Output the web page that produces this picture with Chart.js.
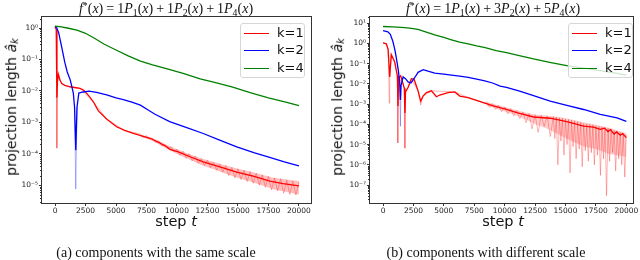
<!DOCTYPE html>
<html>
<head>
<meta charset="utf-8">
<script src="https://cdn.jsdelivr.net/npm/chart.js@4.4.0/dist/chart.umd.min.js"></script>
<style>
  body { margin: 0; background: #fff; width: 640px; height: 260px; overflow: hidden; position: relative; font-family: "DejaVu Sans"; color: #111; }
  .pane { position: absolute; top: 0; width: 320px; height: 260px; }
  .pane canvas { position: absolute; left: 0; top: 0; }
  .serif { position: absolute; font-family: "Liberation Serif"; font-size: 14px; white-space: nowrap; transform: translate(-50%, -50%); line-height: 1; }
  .serif sub { font-size: 0.7em; vertical-align: -0.25em; }
  .serif sup { font-size: 0.7em; vertical-align: 0.45em; }
  .serif .op { margin: 0 3px; }
  .ylab { position: absolute; font-size: 14px; white-space: nowrap; transform: translate(-50%, -50%) rotate(-90deg); line-height: 1; }
  .ylab sub { font-size: 0.7em; vertical-align: -0.2em; }
  .xlab { position: absolute; font-size: 14.5px; white-space: nowrap; transform: translate(-50%, -50%); line-height: 1; }
  .legend { position: absolute; width: 65px; height: 55px; box-sizing: border-box; border: 1px solid #d6d6d6; border-radius: 3px; background: rgba(255,255,255,0.8); }
  .legend .row { position: absolute; left: 0; height: 16px; font-size: 13px; line-height: 16px; }
  .legend .sw { position: absolute; left: 3px; top: 7.5px; width: 25px; height: 1.5px; }
  .legend .tx { position: absolute; left: 36px; top: 0; }
</style>
</head>
<body>
<div class="pane" style="left:0"><canvas id="left" width="320" height="260"></canvas></div>
<div class="pane" style="left:320px"><canvas id="right" width="320" height="260"></canvas></div>

<div class="serif" style="left:166px; top:9px"><i>f</i><sup>*</sup>(<i>x</i>)<span class="op">=</span>1<i>P</i><sub>1</sub>(<i>x</i>)<span class="op">+</span>1<i>P</i><sub>2</sub>(<i>x</i>)<span class="op">+</span>1<i>P</i><sub>4</sub>(<i>x</i>)</div>
<div class="serif" style="left:493px; top:9px"><i>f</i><sup>*</sup>(<i>x</i>)<span class="op">=</span>1<i>P</i><sub>1</sub>(<i>x</i>)<span class="op">+</span>3<i>P</i><sub>2</sub>(<i>x</i>)<span class="op">+</span>5<i>P</i><sub>4</sub>(<i>x</i>)</div>
<div class="serif" style="left:156px; top:253px">(a) components with the same scale</div>
<div class="serif" style="left:486px; top:253px">(b) components with different scale</div>
<div class="ylab" style="left:12px; top:107px">projection length <i>â</i><sub><i>k</i></sub></div>
<div class="ylab" style="left:338px; top:107px">projection length <i>â</i><sub><i>k</i></sub></div>
<div class="xlab" style="left:176px; top:221px">step <i>t</i></div>
<div class="xlab" style="left:503px; top:221px">step <i>t</i></div>

<div class="legend" style="left:240px; top:23px">
  <div class="row" style="top:1px"><div class="sw" style="background:#ff0000"></div><span class="tx">k=1</span></div>
  <div class="row" style="top:18px"><div class="sw" style="background:#0000ff"></div><span class="tx">k=2</span></div>
  <div class="row" style="top:36px"><div class="sw" style="background:#008000"></div><span class="tx">k=4</span></div>
</div>
<div class="legend" style="left:568px; top:23px">
  <div class="row" style="top:1px"><div class="sw" style="background:#ff0000"></div><span class="tx">k=1</span></div>
  <div class="row" style="top:18px"><div class="sw" style="background:#0000ff"></div><span class="tx">k=2</span></div>
  <div class="row" style="top:36px"><div class="sw" style="background:#008000"></div><span class="tx">k=4</span></div>
</div>

<script>
// ---- tick labels ----
const xTicks = [0, 2500, 5000, 7500, 10000, 12500, 15000, 17500, 20000];
const leftYExps = [0, -1, -2, -3, -4, -5];
const rightYExps = [1, 0, -1, -2, -3, -4, -5, -6, -7];

// ---- (a) same scale ----
const stepsL4 = [0, 500, 1000, 1800, 2500, 3200, 4000, 5000, 6000, 7000, 8000, 9200, 10500, 11900, 13000, 14500, 16000, 17500, 19000, 20000];
const valsL4 = [1.15, 1.08, 1.0, 0.85, 0.68, 0.48, 0.31, 0.2, 0.13, 0.088, 0.067, 0.05, 0.036, 0.024, 0.019, 0.0135, 0.0088, 0.006, 0.0043, 0.0034];

const stepsL2 = [0, 150, 300, 500, 800, 1000, 1250, 1500, 1600, 1700, 1800, 1950, 2300, 2800, 3400, 4240, 5000, 5600, 6300, 7000, 7600, 8200, 9400, 10800, 12150, 13500, 14900, 16300, 17600, 18800, 20000];
const valsL2 = [1.15, 1.0, 0.7, 0.3, 0.08, 0.04, 0.022, 0.0085, 0.003, 0.00013, 0.003, 0.0085, 0.0092, 0.0098, 0.009, 0.0074, 0.006, 0.0053, 0.0044, 0.0035, 0.0025, 0.0018, 0.00105, 0.00068, 0.00044, 0.00027, 0.000166, 0.000108, 0.000076, 0.000055, 0.000041];
const stepsL2raw = [1600, 1700, 1800];
const valsL2raw = [0.003, 0.0000075, 0.003];

const stepsL1 = [0, 100, 150, 200, 270, 400, 550, 800, 1230, 1600, 2050, 2350, 2600, 2900, 3140, 3550, 4250, 5050, 5700, 6420, 7100, 7790, 8500, 9150, 9430, 10100, 11070, 12150, 13520, 14900, 16250, 17620, 18700, 20000];
const valsL1 = [1.1, 0.9, 0.006, 0.02, 0.034, 0.022, 0.017, 0.015, 0.0135, 0.0128, 0.012, 0.0105, 0.0083, 0.006, 0.0045, 0.0023, 0.00125, 0.00072, 0.00055, 0.00044, 0.00037, 0.00031, 0.00023, 0.000166, 0.000138, 0.000115, 0.00008, 0.000055, 0.000038, 0.000026, 0.0000194, 0.0000135, 0.0000112, 0.0000095];
const stepsL1raw = [0, 100, 150, 200, 270, 400, 550, 800, 1230, 2050, 3140, 4250, 5700,
  7000, 7250, 7500, 7750, 8000, 8250, 8500, 8750, 9000, 9250, 9500, 9750, 10000, 10250, 10500, 10750,
  11000, 11250, 11500, 11750, 12000, 12250, 12500, 12750, 13000, 13250, 13500, 13750, 14000, 14250,
  14500, 14750, 15000, 15250, 15500, 15750, 16000, 16250, 16500, 16750, 17000, 17250, 17500, 17750,
  18000, 18250, 18500, 18750, 19000, 19250, 19500, 19750, 20000];
const valsL1raw = [1.1, 0.9, 0.00015, 0.02, 0.034, 0.022, 0.017, 0.015, 0.0135, 0.012, 0.0045, 0.00125, 0.00055,
  4.2e-4, 3.3e-4, 3.8e-4, 2.9e-4, 3.1e-4, 2.3e-4, 2.6e-4, 1.8e-4, 2.0e-4, 1.45e-4, 1.65e-4, 1.15e-4, 1.4e-4, 0.88e-4, 1.2e-4, 0.72e-4,
  1.0e-4, 0.6e-4, 0.85e-4, 0.5e-4, 0.7e-4, 0.42e-4, 0.62e-4, 0.36e-4, 0.53e-4, 0.3e-4, 0.46e-4, 0.26e-4, 0.42e-4, 0.2e-4,
  0.37e-4, 0.17e-4, 0.33e-4, 0.15e-4, 0.3e-4, 0.13e-4, 0.27e-4, 0.115e-4, 0.24e-4, 0.1e-4, 0.21e-4, 0.085e-4, 0.19e-4, 0.07e-4,
  0.17e-4, 0.065e-4, 0.16e-4, 0.055e-4, 0.145e-4, 0.05e-4, 0.135e-4, 0.048e-4, 0.125e-4];
// spread of the raw k=1 curve (upper / lower edge)
const stepsL1band = [7000, 8000, 9000, 10000, 11000, 12000, 13000, 14000, 15000, 16000, 17000, 18000, 19000, 20000];
const upperL1band = [4.0e-4, 3.15e-4, 2.05e-4, 1.38e-4, 9.8e-5, 7.1e-5, 5.5e-5, 4.2e-5, 3.3e-5, 2.7e-5, 2.15e-5, 1.7e-5, 1.5e-5, 1.35e-5];
const lowerL1band = [3.5e-4, 2.55e-4, 1.55e-4, 9.8e-5, 6.5e-5, 4.4e-5, 3.2e-5, 2.3e-5, 1.7e-5, 1.3e-5, 9.7e-6, 7.2e-6, 6.0e-6, 5.0e-6];

// ---- (b) different scale ----
const stepsR4 = [0, 800, 1500, 2200, 2880, 3500, 4250, 5000, 5620, 6300, 7000, 7700, 8400, 9300, 10150, 11200, 12370, 13700, 15100, 16500, 17860, 19000, 20000];
const valsR4 = [6.8, 6.5, 6.2, 5.6, 4.9, 3.7, 2.6, 1.95, 1.5, 1.15, 0.93, 0.75, 0.62, 0.44, 0.35, 0.25, 0.17, 0.115, 0.079, 0.059, 0.045, 0.035, 0.027];

const stepsR2 = [0, 400, 600, 820, 1000, 1100, 1250, 1370, 1430, 1480, 1650, 1850, 2060, 2300, 2600, 2880, 3300, 3700, 4250, 5000, 5620, 6300, 7000, 7700, 8370, 9000, 9630, 10150, 11300, 12370, 13740, 15110, 16490, 17860, 19240, 20000];
const valsR2 = [4.2, 3.7, 2.8, 1.2, 0.4, 0.18, 0.05, 0.0125, 0.0016, 0.008, 0.022, 0.018, 0.0125, 0.011, 0.02, 0.037, 0.05, 0.042, 0.034, 0.03, 0.027, 0.024, 0.021, 0.017, 0.014, 0.011, 0.0078, 0.0066, 0.0042, 0.0026, 0.0014, 0.00086, 0.00054, 0.00031, 0.00021, 0.00014];
const stepsR2raw = [1380, 1430, 1480];
const valsR2raw = [0.01, 0.00008, 0.008];

const stepsR1 = [0, 270, 420, 550, 680, 960, 1180, 1230, 1280, 1450, 1650, 1750, 1800, 1850, 2060, 2330, 2550, 2880, 3100, 3290, 3570, 3980, 4390, 4660, 5350, 5900, 6310, 7000, 8370, 9000, 10150, 11000, 12370, 13740, 15110, 16490, 17300, 17860, 18200, 18500, 18700, 19000, 19200, 19500, 19700, 20000];
const valsR1 = [1.05, 0.95, 0.5, 0.022, 0.28, 0.12, 0.025, 0.0008, 0.02, 0.025, 0.01, 0.006, 0.00036, 0.004, 0.0066, 0.018, 0.017, 0.0045, 0.0014, 0.0025, 0.0037, 0.0045, 0.0023, 0.0028, 0.0037, 0.004, 0.0025, 0.0021, 0.0011, 0.00085, 0.00054, 0.00038, 0.00023, 0.0002, 0.000135, 0.000082, 0.000072, 0.000056, 0.000065, 0.000044, 0.000055, 0.000033, 0.000042, 0.000029, 0.000035, 0.000022];
const stepsR1raw = [0, 270, 420, 520, 550, 680, 960, 1180, 1220, 1280, 1650, 1780, 1800, 1820, 2060, 2330, 2880, 3100, 3290, 4000, 5900, 7000, 8370,
  8500, 8750, 9000, 9250, 9500, 9750, 10000, 10250, 10500, 10750, 11000, 11250, 11500, 11750, 12000, 12250, 12500, 12750, 13000, 13250, 13500, 13750,
  14000, 14125, 14250, 14375, 14500, 14625, 14750, 14875, 15000, 15125, 15250, 15375, 15500, 15625, 15750, 15875,
  16000, 16125, 16250, 16375, 16500, 16625, 16750, 16875, 17000, 17125, 17250, 17375, 17500, 17625, 17750, 17875,
  18000, 18125, 18250, 18375, 18500, 18625, 18750, 18875, 19000, 19125, 19250, 19375, 19500, 19625, 19750, 19875, 20000];
const valsR1raw = [1.05, 0.95, 0.5, 0.0011, 0.022, 0.28, 0.12, 0.025, 0.000012, 0.02, 0.01, 0.005, 0.0000066, 0.004, 0.0066, 0.018, 0.0045, 0.0009, 0.0025, 0.0045, 0.004, 0.0021, 0.0011,
  1.3e-3, 7e-4, 1.05e-3, 5.5e-4, 8.8e-4, 4.2e-4, 7.2e-4, 3.3e-4, 6e-4, 2.6e-4, 4.8e-4, 1.9e-4, 4.1e-4, 1.2e-4, 3.4e-4, 6e-5, 3.0e-4, 4e-5, 2.8e-4, 8e-5, 2.6e-4, 2.5e-5,
  2.4e-4, 2e-5, 2.3e-4, 1e-6, 2.1e-4, 1.5e-5, 2.0e-4, 3e-6, 1.8e-4, 1e-5, 1.75e-4, 4e-7, 1.6e-4, 8e-6, 1.5e-4, 2e-6,
  1.35e-4, 6e-6, 1.25e-4, 8e-7, 1.1e-4, 5e-6, 1.05e-4, 1.5e-6, 1.0e-4, 4e-6, 9.5e-5, 1e-6, 8.5e-5, 3e-6, 8e-5, 3e-7,
  7.5e-5, 2e-6, 7e-5, 3e-8, 6.5e-5, 1.5e-6, 6e-5, 4e-6, 5e-5, 5e-7, 4.5e-5, 2e-6, 4e-5, 1e-6, 3.6e-5, 2.5e-7, 3.2e-5];
const stepsR1band = [8500, 9500, 10500, 11500, 12500, 13500, 14500, 15500, 16500, 17500, 18500, 19500, 20000];
const upperR1band = [1.3e-3, 8.8e-4, 6.1e-4, 4.2e-4, 3.1e-4, 2.75e-4, 2.3e-4, 1.75e-4, 1.25e-4, 9.5e-5, 7e-5, 4.5e-5, 3.6e-5];
const lowerR1band = [8.5e-4, 5.3e-4, 3.4e-4, 2.0e-4, 1.0e-4, 6e-5, 3e-5, 1.5e-5, 8e-6, 6e-6, 3.5e-6, 2.8e-6, 2.5e-6];

const RED = "#ff0000", BLUE = "#0000ff", GREEN = "#008000";
const RED_LIGHT = "rgba(255, 0, 0, 0.3)", BLUE_LIGHT = "rgba(0, 0, 255, 0.3)";
const SUP = { "-": "⁻", "0": "⁰", "1": "¹", "2": "²", "3": "³", "4": "⁴", "5": "⁵", "6": "⁶", "7": "⁷", "8": "⁸", "9": "⁹" };

function pts(xs, ys) {
    return xs.map((x, i) => ({ x: x, y: ys[i] }));
}

function line(label, xs, ys, color, width) {
    return { label: label, data: pts(xs, ys), borderColor: color, borderWidth: width, pointRadius: 0, tension: 0, fill: false };
}

// two datasets: lower edge, then upper edge filled down to it
function band(label, xs, lo, hi, color) {
    return [
        { label: label + " lo", data: pts(xs, lo), borderWidth: 0, pointRadius: 0, tension: 0, fill: false },
        { label: label + " hi", data: pts(xs, hi), borderWidth: 0, pointRadius: 0, tension: 0, fill: "-1", backgroundColor: color },
    ];
}

function powLabel(v) {
    const e = String(Math.round(Math.log10(v)));
    return "10" + e.split("").map((c) => SUP[c]).join("");
}

// box round the plot + minor log ticks
const frame = {
    id: "frame",
    afterDraw(chart) {
        const ctx = chart.ctx;
        const a = chart.chartArea;
        const y = chart.scales.y;
        ctx.save();
        ctx.strokeStyle = "#333";
        ctx.lineWidth = 1;
        const l = Math.round(a.left) - 0.5, t = Math.round(a.top) - 0.5;
        const r = Math.round(a.right) + 0.5, b = Math.round(a.bottom) + 0.5;
        ctx.strokeRect(l, t, r - l, b - t);
        ctx.beginPath();
        const lo = Math.floor(Math.log10(y.min)), hi = Math.ceil(Math.log10(y.max));
        for (let e = lo; e <= hi; e++) {
            for (let m = 2; m <= 9; m++) {
                const v = m * Math.pow(10, e);
                if (v < y.min || v > y.max) continue;
                const py = Math.round(y.getPixelForValue(v)) + 0.5;
                ctx.moveTo(l - 1.5, py);
                ctx.lineTo(l, py);
            }
        }
        ctx.stroke();
        ctx.restore();
    },
};

function makeChart(id, datasets, opts) {
    return new Chart(document.getElementById(id), {
        type: "line",
        data: { datasets: datasets },
        options: {
            responsive: false,
            animation: false,
            devicePixelRatio: 1,
            layout: { padding: { left: 0, top: 17, right: opts.padRight, bottom: 45 } },
            plugins: { legend: { display: false }, tooltip: { enabled: false }, filler: { propagate: false } },
            scales: {
                x: {
                    type: "linear",
                    min: opts.xMin,
                    max: opts.xMax,
                    bounds: "data",
                    afterBuildTicks: (axis) => { axis.ticks = xTicks.map((v) => ({ value: v })); },
                    afterFit: (axis) => { axis.height = 12; },
                    grid: { display: true, drawOnChartArea: false, drawTicks: true, tickLength: 3, tickColor: "#333" },
                    border: { display: false },
                    ticks: { autoSkip: false, maxRotation: 0, padding: 1, color: "#222", font: { family: "DejaVu Sans", size: 7.5 }, callback: (v) => String(v) },
                },
                y: {
                    type: "logarithmic",
                    min: opts.yMin,
                    max: opts.yMax,
                    bounds: "data",
                    afterBuildTicks: (axis) => { axis.ticks = opts.yExps.map((e) => ({ value: Math.pow(10, e) })); },
                    afterFit: (axis) => { axis.width = opts.yWidth; },
                    grid: { display: true, drawOnChartArea: false, drawTicks: true, tickLength: 3, tickColor: "#333" },
                    border: { display: false },
                    ticks: { autoSkip: false, padding: 1, color: "#222", font: { family: "DejaVu Sans", size: 7.5 }, callback: (v) => powLabel(v) },
                },
            },
        },
        plugins: [frame],
    });
}

makeChart("left", [
    line("k=4", stepsL4, valsL4, GREEN, 1.3),
    line("k=2", stepsL2, valsL2, BLUE, 1.3),
    line("k=1", stepsL1, valsL1, RED, 1.3),
    line("k=2 raw", stepsL2raw, valsL2raw, BLUE_LIGHT, 1),
    line("k=1 raw", stepsL1raw, valsL1raw, RED_LIGHT, 1),
    ...band("k=1 spread", stepsL1band, lowerL1band, upperL1band, "rgba(255, 0, 0, 0.25)"),
], { xMin: -1070, xMax: 20990, yMin: 2.7e-6, yMax: 2.24, yExps: leftYExps, yWidth: 42, padRight: 9 });

makeChart("right", [
    line("k=4", stepsR4, valsR4, GREEN, 1.3),
    line("k=2", stepsR2, valsR2, BLUE, 1.3),
    line("k=1", stepsR1, valsR1, RED, 1.3),
    line("k=2 raw", stepsR2raw, valsR2raw, BLUE_LIGHT, 1),
    line("k=1 raw", stepsR1raw, valsR1raw, RED_LIGHT, 1),
    ...band("k=1 spread", stepsR1band, lowerR1band, upperR1band, "rgba(255, 0, 0, 0.2)"),
], { xMin: -1070, xMax: 20550, yMin: 1.3e-8, yMax: 20, yExps: rightYExps, yWidth: 50, padRight: 7 });
</script>
</body>
</html>
